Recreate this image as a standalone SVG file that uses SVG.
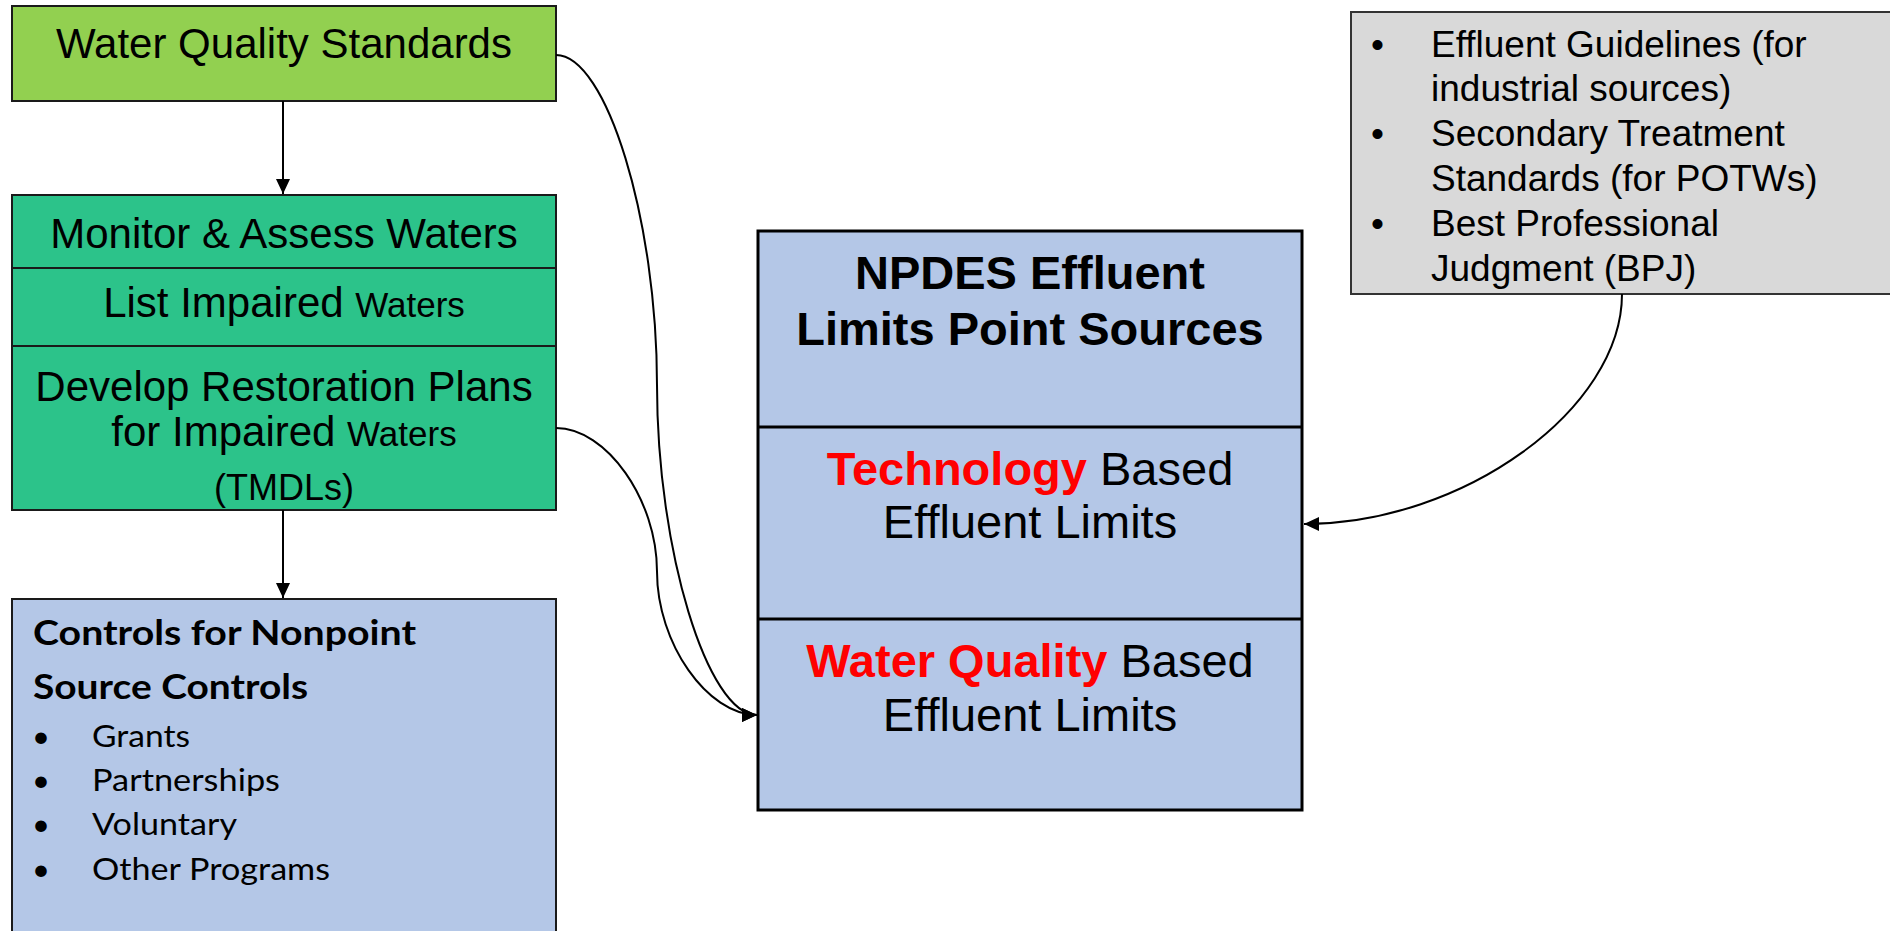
<svg xmlns="http://www.w3.org/2000/svg" width="1890" height="931" viewBox="0 0 1890 931">
<style>
.ar{font-family:"Liberation Sans",Arial,sans-serif;fill:#000}
.c{text-anchor:middle}
.b{font-weight:bold}
.red{fill:#FF0000;font-weight:bold}
.lato{font-family:Lato,"Open Sans",sans-serif;fill:#000}
.box{stroke:#1a1a1a;stroke-width:2}
.conn{fill:none;stroke:#000;stroke-width:2}
</style>
<defs>
<marker id="ah" markerUnits="userSpaceOnUse" markerWidth="16" markerHeight="14" refX="15" refY="7" orient="auto">
<path d="M0,0 L15,7 L0,14 z" fill="#000"/>
</marker>
</defs>
<rect width="1890" height="931" fill="#fff"/>

<g id="wqs">
<rect class="box" x="12" y="6" width="544" height="95" fill="#92D050"/>
<text class="ar c" x="284" y="58" font-size="42">Water Quality Standards</text>
</g>

<g id="tmdl-stack">
<rect class="box" x="12" y="195" width="544" height="315" fill="#2CC38A"/>
<line class="box" x1="12" y1="268" x2="556" y2="268"/>
<line class="box" x1="12" y1="346" x2="556" y2="346"/>
<text class="ar c" x="284" y="248" font-size="42">Monitor &amp; Assess Waters</text>
<text class="ar c" x="284" y="317" font-size="42">List Impaired <tspan font-size="35">Waters</tspan></text>
<text class="ar c" x="284" y="401" font-size="42">Develop Restoration Plans</text>
<text class="ar c" x="284" y="446" font-size="42">for Impaired <tspan font-size="35">Waters</tspan></text>
<text class="ar c" x="284" y="500" font-size="36">(TMDLs)</text>
</g>

<g id="nonpoint">
<rect class="box" x="12" y="599" width="544" height="345" fill="#B4C7E7"/>
<text class="lato b" x="33" y="645" font-size="35" textLength="383" lengthAdjust="spacingAndGlyphs">Controls for Nonpoint</text>
<text class="lato b" x="33" y="699" font-size="35" textLength="275" lengthAdjust="spacingAndGlyphs">Source Controls</text>
<g class="lato" font-size="31">
<text x="32" y="747">•</text>
<text x="92" y="747" textLength="98" lengthAdjust="spacingAndGlyphs">Grants</text>
<text x="32" y="791">•</text>
<text x="92" y="791" textLength="188" lengthAdjust="spacingAndGlyphs">Partnerships</text>
<text x="32" y="835">•</text>
<text x="92" y="835" textLength="145" lengthAdjust="spacingAndGlyphs">Voluntary</text>
<text x="32" y="880">•</text>
<text x="92" y="880" textLength="238" lengthAdjust="spacingAndGlyphs">Other Programs</text>
</g>
</g>

<g id="npdes">
<rect x="758" y="231" width="544" height="579" fill="#B4C7E7" stroke="#000" stroke-width="3"/>
<line x1="758" y1="427" x2="1302" y2="427" stroke="#000" stroke-width="3"/>
<line x1="758" y1="619" x2="1302" y2="619" stroke="#000" stroke-width="3"/>
<text class="ar c b" x="1030" y="289" font-size="47">NPDES Effluent</text>
<text class="ar c b" x="1030" y="345" font-size="47">Limits Point Sources</text>
<text class="ar c" x="1030" y="485" font-size="47"><tspan class="red">Technology</tspan> Based</text>
<text class="ar c" x="1030" y="538" font-size="47">Effluent Limits</text>
<text class="ar c" x="1030" y="677" font-size="47"><tspan class="red">Water Quality</tspan> Based</text>
<text class="ar c" x="1030" y="731" font-size="47">Effluent Limits</text>
</g>

<g id="tech-sources">
<rect x="1351" y="12" width="560" height="282" fill="#D9D9D9" stroke="#333" stroke-width="2"/>
<g class="ar" font-size="37">
<text x="1371" y="57">•</text>
<text x="1431" y="57">Effluent Guidelines (for</text>
<text x="1431" y="101">industrial sources)</text>
<text x="1371" y="146">•</text>
<text x="1431" y="146">Secondary Treatment</text>
<text x="1431" y="191">Standards (for POTWs)</text>
<text x="1371" y="236">•</text>
<text x="1431" y="236">Best Professional</text>
<text x="1431" y="281">Judgment (BPJ)</text>
</g>
</g>

<g id="connectors">
<line class="conn" x1="283" y1="101" x2="283" y2="194" marker-end="url(#ah)"/>
<line class="conn" x1="283" y1="510" x2="283" y2="598" marker-end="url(#ah)"/>
<path class="conn" d="M556,55 C606.5,55 657,220 657,385 C657,550 707.5,715 757,715" marker-end="url(#ah)"/>
<path class="conn" d="M556,428 C606.5,428 657,499.75 657,571.5 C657,643.25 707.5,715 757,715" marker-end="url(#ah)"/>
<path class="conn" d="M1622,294 C1622,409 1463,524 1304,524" marker-end="url(#ah)"/>
</g>
</svg>
